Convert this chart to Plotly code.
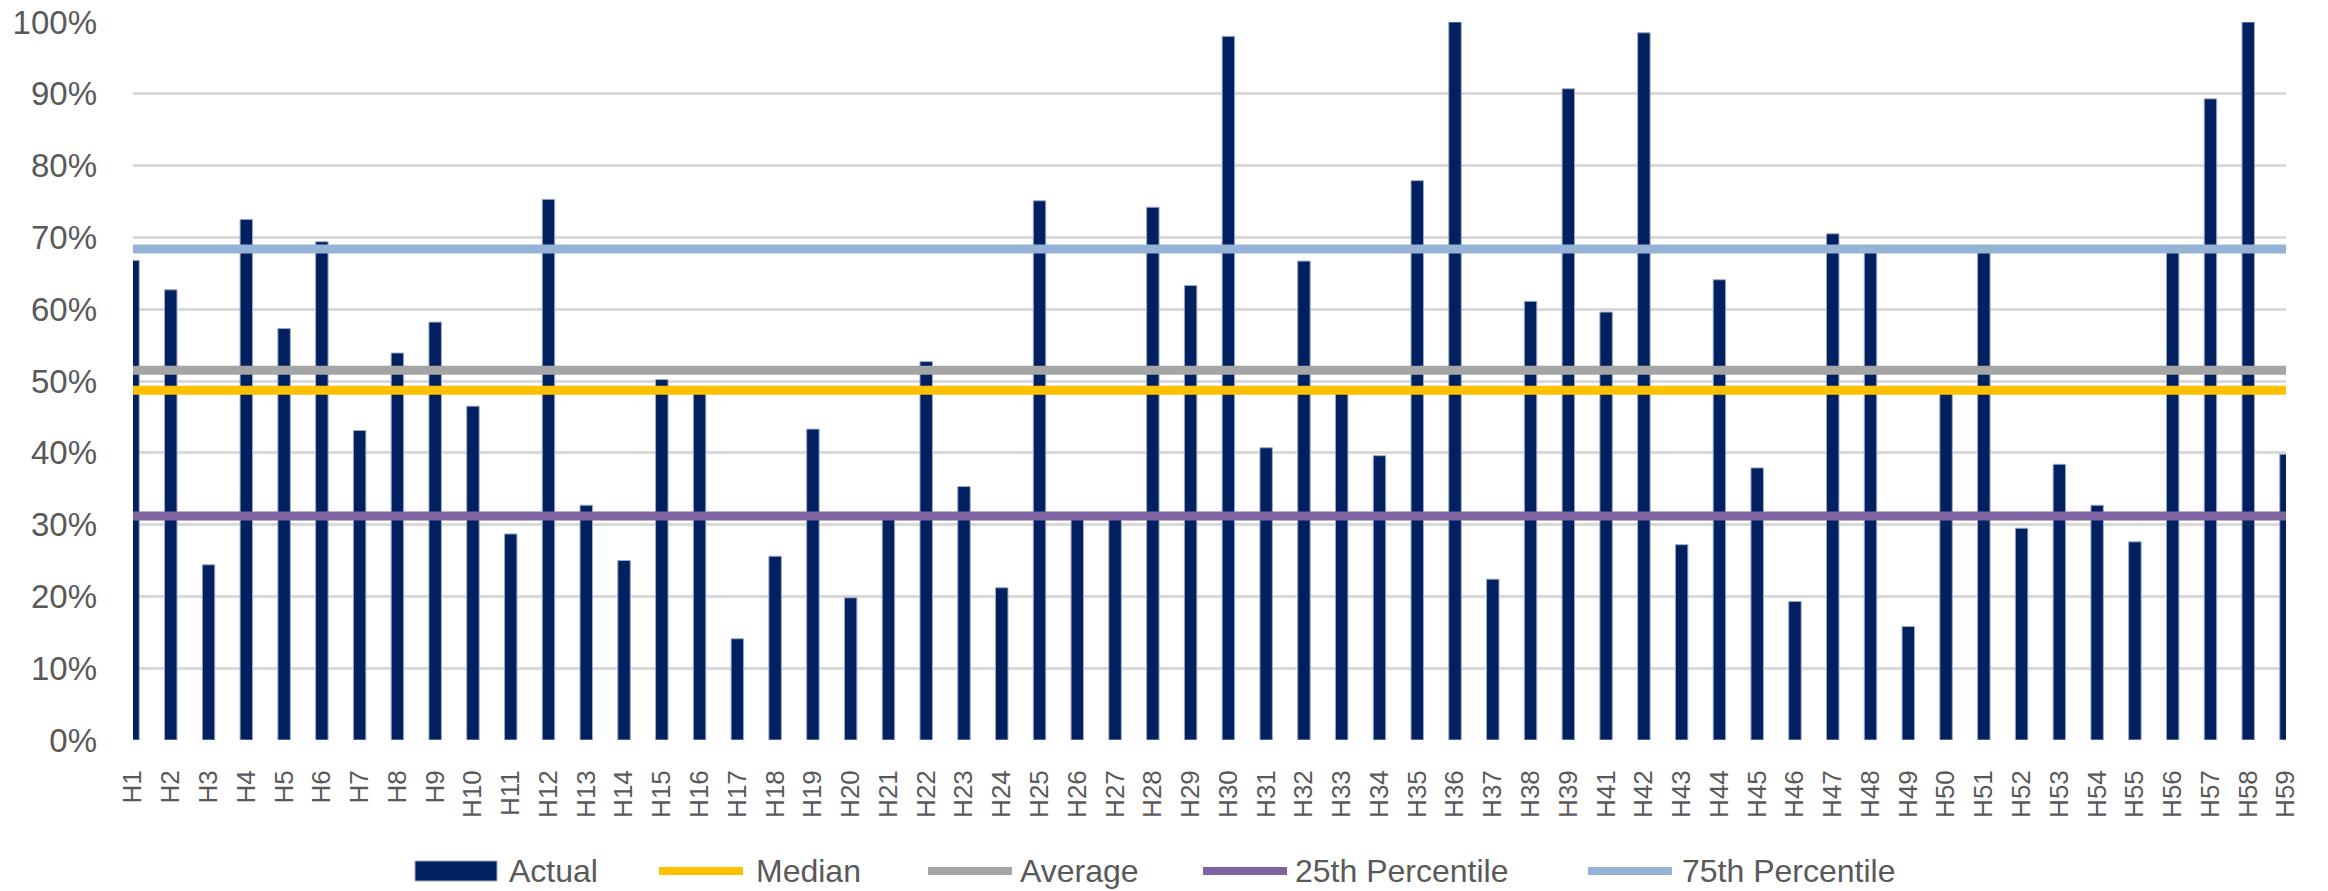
import plotly.graph_objects as go

# categories (H40 is missing in the source)
hotels = [f"H{i}" for i in range(1, 40)] + [f"H{i}" for i in range(41, 60)]

actual = [
    0.668, 0.627, 0.244, 0.725, 0.573, 0.694, 0.431, 0.539, 0.582, 0.465,   # H1-H10
    0.287, 0.753, 0.327, 0.250, 0.502, 0.487, 0.141, 0.256, 0.433, 0.198,   # H11-H20
    0.312, 0.527, 0.353, 0.212, 0.751, 0.312, 0.312, 0.742, 0.633, 0.980,   # H21-H30
    0.407, 0.667, 0.487, 0.396, 0.779, 1.000, 0.224, 0.611, 0.907,          # H31-H39
    0.596, 0.985, 0.272, 0.641, 0.379, 0.193, 0.705, 0.684, 0.158, 0.487,   # H41-H50
    0.684, 0.295, 0.384, 0.327, 0.276, 0.684, 0.893, 1.000, 0.398,          # H51-H59
]

median = 0.487
average = 0.515
p25 = 0.312
p75 = 0.684

NAVY = "#002060"
GOLD = "#FFC000"
GRAY = "#A5A5A5"
PURPLE = "#8064A2"
LIGHTBLUE = "#95B3D7"
TEXT = "#595959"

W, H = 2328, 891
L, R, T, B = 133, 42, 22, 151

stats = [("Median", median, GOLD), ("Average", average, GRAY),
         ("25th Percentile", p25, PURPLE), ("75th Percentile", p75, LIGHTBLUE)]

fig = go.Figure()
fig.add_trace(go.Bar(
    x=hotels, y=actual, name="Actual",
    marker=dict(color=NAVY, line=dict(color="#9DA9C8", width=1)),
))
for label, val, col in stats:
    fig.add_trace(go.Scatter(x=hotels, y=[val] * len(hotels), name=label, mode="lines",
                             line=dict(color=col, width=9)))

# Excel-style legend below the chart (long swatches), placed in paper coords
pw, ph = W - L - R, H - T - B
px = lambda x: (x - L) / pw
py = lambda y: (H - B - y) / ph
leg_y = 871
legend_items = [("Actual", NAVY, "rect", 415, 507), ("Median", GOLD, "line", 655, 754),
                ("Average", GRAY, "line", 924, 1018), ("25th Percentile", PURPLE, "line", 1199, 1293),
                ("75th Percentile", LIGHTBLUE, "line", 1584, 1680)]
shapes, annotations = [], []
for text, col, kind, x0, tx in legend_items:
    if kind == "rect":
        shapes.append(dict(type="rect", xref="paper", yref="paper", x0=px(x0), x1=px(x0 + 82),
                           y0=py(leg_y - 10), y1=py(leg_y + 10), fillcolor=col,
                           line=dict(color="#9DA9C8", width=1)))
    else:
        shapes.append(dict(type="line", xref="paper", yref="paper", x0=px(x0 + 4), x1=px(x0 + 88),
                           y0=py(leg_y), y1=py(leg_y), line=dict(color=col, width=8)))
    annotations.append(dict(text=text, xref="paper", yref="paper", x=px(tx), y=py(leg_y),
                            xanchor="left", yanchor="middle", showarrow=False,
                            font=dict(size=32, color=TEXT)))

fig.update_layout(
    width=W, height=H,
    margin=dict(l=L, r=R, t=T, b=B),
    plot_bgcolor="white", paper_bgcolor="white",
    bargap=0.67, showlegend=False,
    font=dict(family="Liberation Sans, Arial, sans-serif", color=TEXT),
    shapes=shapes, annotations=annotations,
)
fig.update_yaxes(range=[0, 1], dtick=0.1, tickformat=".0%", showgrid=True,
                 gridcolor="#D9D9D9", gridwidth=3, zeroline=False, showline=False,
                 tickfont=dict(size=33, color=TEXT), ticklabelstandoff=35,
                 ticklabeloverflow="allow", automargin=False)
fig.update_xaxes(type="category", range=[0, 57], tickangle=-90, showgrid=False,
                 showline=False, tickfont=dict(size=26, color=TEXT), ticklabelstandoff=24,
                 automargin=False)

# drop the default 8px body margin so the figure fills the window exactly
fig.write_html("out.html", config={"displayModeBar": False},
               post_script="document.body.style.margin = '0';")
